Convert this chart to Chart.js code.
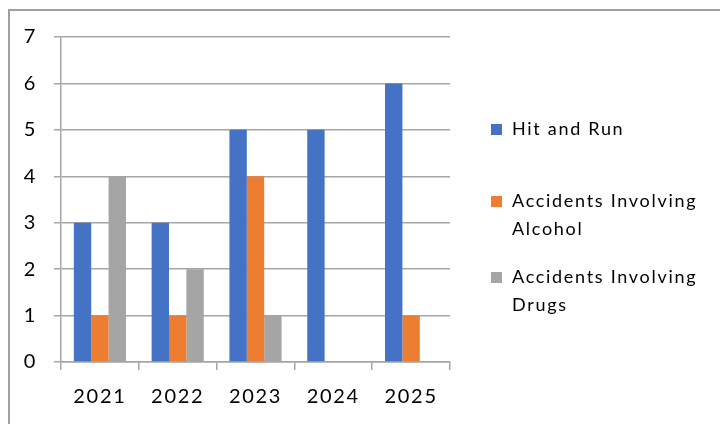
<!DOCTYPE html>
<html>
<head>
<meta charset="utf-8">
<script src="https://cdn.jsdelivr.net/npm/chart.js@4"></script>
<style>
  html, body { margin: 0; padding: 0; background: #fff; }
  #wrap { position: relative; width: 720px; height: 424px; overflow: hidden; }
  #frame {
    position: absolute; left: 8px; top: 9px; width: 760px; height: 460px;
    border-left: 2px solid #a0a0a0; border-top: 2px solid #a0a0a0;
    pointer-events: none;
  }
  canvas { position: absolute; left: 0; top: 0; }
</style>
</head>
<body>
<div id="wrap">
  <canvas id="chart" width="720" height="424"></canvas>
  <div id="frame"></div>
</div>
<script>
// Dados do gráfico
const years = ["2021", "2022", "2023", "2024", "2025"];
const hitAndRun = [3, 3, 5, 5, 6];
const alcohol = [1, 1, 4, null, 1];
const drugs = [4, 2, 1, null, null];
const yTicks = [0, 1, 2, 3, 4, 5, 6, 7];

const seriesNames = [
  ["Hit and Run"],
  ["Accidents Involving", "Alcohol"],
  ["Accidents Involving", "Drugs"],
];
const seriesColors = ["#4472C4", "#ED7D31", "#A5A5A5"];

const FONT = "Lato, 'Noto Sans', sans-serif";
const SPACING = "1.7px";

// Espaçamento entre letras para os rótulos dos eixos
const spacedText = {
  id: "spacedText",
  beforeDraw(chart) { chart.ctx.letterSpacing = SPACING; },
  afterDraw(chart) { chart.ctx.letterSpacing = "0px"; },
};

// Legenda desenhada à direita, com quebra de linha
const sideLegend = {
  id: "sideLegend",
  afterDraw(chart) {
    const ctx = chart.ctx;
    const startY = [129, 201, 277];
    ctx.save();
    ctx.font = "18px " + FONT;
    ctx.letterSpacing = SPACING;
    ctx.textBaseline = "middle";
    chart.data.datasets.forEach((ds, i) => {
      const y = startY[i];
      ctx.fillStyle = ds.backgroundColor;
      ctx.fillRect(491, y - 5, 11, 11);
      ctx.fillStyle = "#000";
      seriesNames[i].forEach((line, j) => {
        ctx.fillText(line, 512, y + j * 28);
      });
    });
    ctx.restore();
  },
};

const ctx = document.getElementById("chart").getContext("2d");

const chart = new Chart(ctx, {
  type: "bar",
  data: {
    labels: years,
    datasets: [
      { label: seriesNames[0].join(" "), data: hitAndRun, backgroundColor: seriesColors[0] },
      { label: seriesNames[1].join(" "), data: alcohol, backgroundColor: seriesColors[1] },
      { label: seriesNames[2].join(" "), data: drugs, backgroundColor: seriesColors[2] },
    ],
  },
  options: {
    responsive: false,
    animation: false,
    layout: { padding: { top: 37, right: 270, left: 0, bottom: 0 } },
    datasets: {
      bar: { categoryPercentage: 0.67, barPercentage: 1.0 },
    },
    plugins: {
      legend: { display: false },
      tooltip: { enabled: false },
    },
    scales: {
      x: {
        grid: {
          offset: true,
          drawOnChartArea: false,
          tickLength: 8,
          color: "#a6a6a6",
          lineWidth: 1.5,
        },
        border: { color: "#a6a6a6", width: 1.5 },
        ticks: {
          color: "#000",
          font: { family: FONT, size: 20 },
          padding: 15,
          maxRotation: 0,
        },
        afterFit(scale) { scale.height = 62; },
      },
      y: {
        min: 0,
        max: 7,
        afterBuildTicks(scale) {
          scale.ticks = yTicks.map((v) => ({ value: v }));
        },
        grid: {
          color: "#a6a6a6",
          lineWidth: 1.5,
          tickLength: 7,
        },
        border: { color: "#a6a6a6", width: 1.5 },
        ticks: {
          color: "#000",
          font: { family: FONT, size: 20 },
          padding: 17,
        },
        afterFit(scale) { scale.width = 61; },
      },
    },
  },
  plugins: [spacedText, sideLegend],
});
</script>
</body>
</html>
